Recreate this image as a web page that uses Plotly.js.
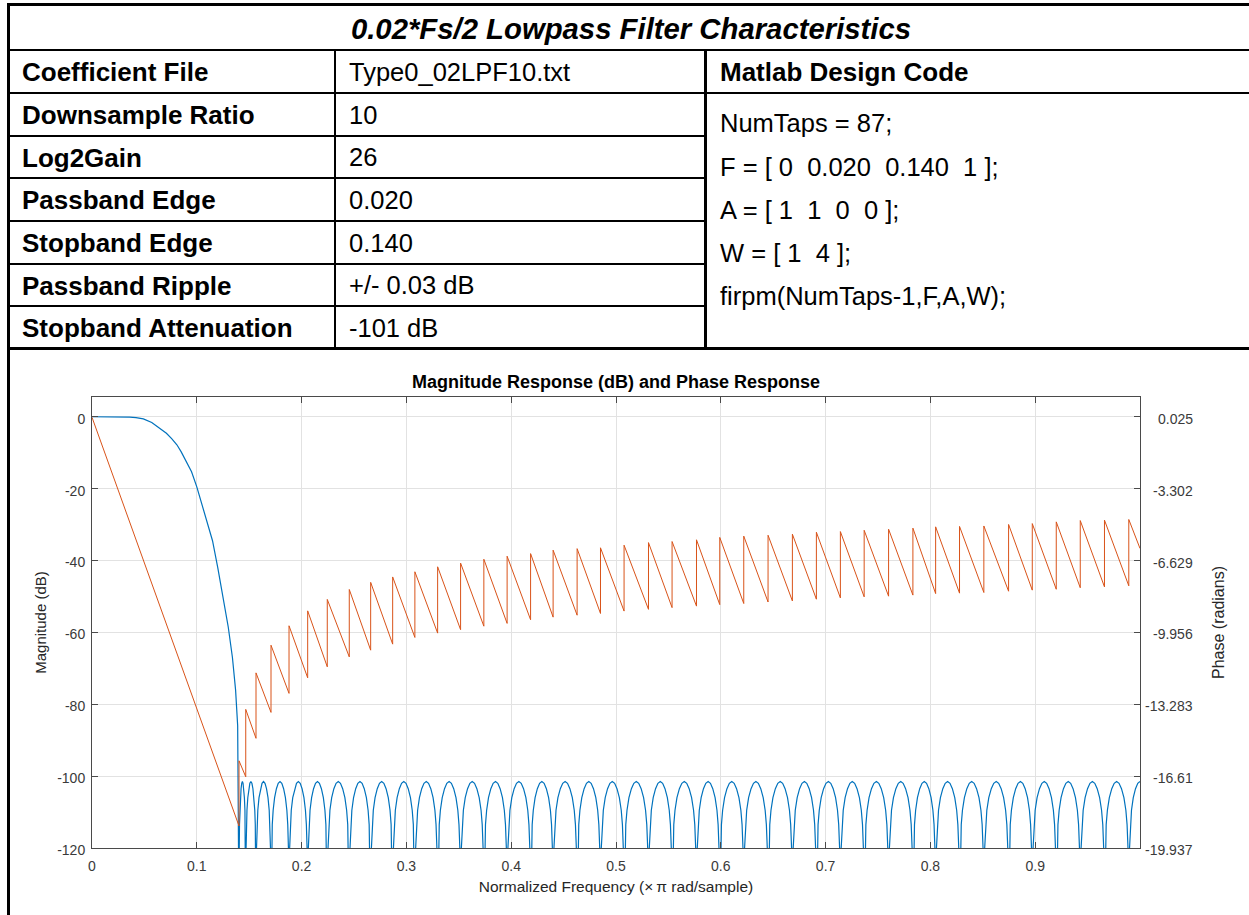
<!DOCTYPE html>
<html><head><meta charset="utf-8">
<script src="https://cdn.plot.ly/plotly-3.0.1.min.js"></script>
<style>
body{margin:0;width:1249px;height:915px;overflow:hidden;background:#fff;font-family:Arial,"Liberation Sans",sans-serif;}
.ln{position:absolute;background:#000;}
.tx{position:absolute;white-space:pre;color:#000;line-height:1;}
#plot{position:absolute;left:0;top:351px;width:1249px;height:564px;}
</style></head><body>
<div id="plot"></div>
<div id="table"></div>
<script>
// ---------- table content ----------
const tableTitle = "0.02*Fs/2 Lowpass Filter Characteristics";
const tableLabels = ["Coefficient File","Downsample Ratio","Log2Gain","Passband Edge","Stopband Edge","Passband Ripple","Stopband Attenuation"];
const tableValues = ["Type0_02LPF10.txt","10","26","0.020","0.140","+/- 0.03 dB","-101 dB"];
const codeHeader = "Matlab Design Code";
const codeLines = ["NumTaps = 87;","F = [ 0  0.020  0.140  1 ];","A = [ 1  1  0  0 ];","W = [ 1  4 ];","firpm(NumTaps-1,F,A,W);"];

// ---------- chart text ----------
const chartTitle = "Magnitude Response (dB) and Phase Response";
const xTitle = "Normalized Frequency (\u00d7\u2009\u03c0 rad/sample)";
const yTitle = "Magnitude (dB)";
const y2Title = "Phase (radians)";
const xTickVals = [0,0.1,0.2,0.3,0.4,0.5,0.6,0.7,0.8,0.9];
const xTickText = ["0","0.1","0.2","0.3","0.4","0.5","0.6","0.7","0.8","0.9"];
const yTickVals = [0,-20,-40,-60,-80,-100,-120];
const yTickText = ["0","-20","-40","-60","-80","-100","-120"];
const y2TickVals = [0.025,-3.302,-6.629,-9.956,-13.283,-16.61,-19.937];
const y2TickText = ["0.025","-3.302","-6.629","-9.956","-13.283","-16.61","-19.937"];

// ---------- magnitude (dB) ----------
const passF  = [0,0.010,0.020,0.030,0.036,0.042,0.049,0.057,0.065,0.071,0.076,0.081,0.085,0.090,0.095,0.100,0.105,0.110,0.115,0.120,0.125,0.130,0.134,0.137,0.139];
const passDb = [0,0,0,-0.02,-0.1,-0.25,-0.6,-1.6,-3.3,-4.6,-6.1,-7.8,-9.7,-12.3,-15.3,-19.5,-24.3,-29.3,-34.5,-42,-50,-58.5,-67,-76,-86];
// stopband nulls (frequency of each zero of the response)
const magNullF = [0.1403,0.1467,0.1565,0.1708,0.1880,0.2058,0.2245,0.2455,0.2659,0.2869,0.3081,0.3298,0.3517,0.3739,0.3961,0.4185,0.4400,0.4629,0.4852,0.5077,0.5310,0.5535,0.5768,0.5990,0.6219,0.6451,0.6683,0.6912,0.7141,0.7368,0.7601,0.7833,0.8050,0.8278,0.8510,0.8746,0.8972,0.9201,0.9430,0.9661,0.9893];
// peak level of the lobe that starts at each null
const magLobePeakDb = [-101.5,-101.5,-101.5,-101.5,-101.5,-101.5,-101.5,-101.5,-101.5,-101.5,-101.5,-101.5,-101.5,-101.5,-101.5,-101.5,-101.5,-101.5,-101.5,-101.5,-101.5,-101.5,-101.5,-101.5,-101.5,-101.5,-101.5,-101.5,-101.5,-101.5,-101.5,-101.5,-101.5,-101.5,-101.5,-101.5,-101.5,-101.5,-101.5,-101.5,-101.5];
const magEndF = 1.0;
// shape of one stopband lobe (fraction of lobe width, dB below the peak)
const lobeT        = [0,0.03,0.07,0.12,0.2,0.3,0.4,0.5,0.6,0.7,0.8,0.88,0.93,0.97,1];
const lobeOffsetDb = [-40,-19,-12,-8,-4.5,-2,-0.5,0,-0.5,-2,-4.5,-8,-12,-19,-40];

// ---------- phase (radians) ----------
const phaseStartF = 0, phaseStartRad = 0;
const phaseBeforeJump = [-18.92,-16.64,-14.86,-13.66,-12.78,-12.06,-11.55,-11.09,-10.78,-10.50,-10.19,-9.99,-9.83,-9.67,-9.54,-9.37,-9.25,-9.16,-9.08,-8.97,-8.89,-8.81,-8.74,-8.67,-8.62,-8.55,-8.50,-8.42,-8.36,-8.31,-8.28,-8.23,-8.16,-8.14,-8.11,-8.05,-8.00,-7.96,-7.89,-7.85,-7.80];
const phaseAfterJump  = [-15.90,-13.52,-11.83,-10.55,-9.65,-8.96,-8.43,-7.97,-7.64,-7.39,-7.15,-6.92,-6.75,-6.57,-6.43,-6.31,-6.15,-6.08,-6.04,-5.92,-5.80,-5.75,-5.67,-5.56,-5.50,-5.46,-5.41,-5.32,-5.29,-5.23,-5.18,-5.13,-5.07,-5.05,-5.03,-4.96,-4.92,-4.84,-4.78,-4.76,-4.73];
const phaseEndF = 1.0, phaseEndRad = -6.07;

// ---------- build the table ----------
const tbl = document.getElementById('table');
function line(x,y,w,h){const d=document.createElement('div');d.className='ln';d.style.left=x+'px';d.style.top=y+'px';d.style.width=w+'px';d.style.height=h+'px';tbl.appendChild(d);}
function text(t,x,yc,size,bold,italic,align,w){
  const d=document.createElement('div');d.className='tx';d.textContent=t;
  d.style.fontSize=size+'px';d.style.fontWeight=bold?'bold':'normal';d.style.fontStyle=italic?'italic':'normal';
  d.style.top=(yc-0.4885*size)+'px';d.style.left=x+'px';
  if(align){d.style.textAlign=align;d.style.width=w+'px';}
  tbl.appendChild(d);
}
const rowLines=[50,93,136,178,221,264,306,349];
line(7,3,1242,3); line(7,3,3,912);
line(10,49,1239,2);
for(let i=1;i<rowLines.length-1;i++) line(10,rowLines[i]-1,694,2);
line(707,92,542,2);
line(7,347,1242,3);
line(334,50,2,298); line(704,50,3,298);
const FS_B=26, FS_R=25.5;
text(tableTitle,10,28,29.3,true,true,'center',1242);
for(let i=0;i<tableLabels.length;i++){
  const yc=(rowLines[i]+rowLines[i+1])/2+0.5;
  text(tableLabels[i],22,yc,FS_B,true,false);
  text(tableValues[i],349,yc,FS_R,false,false);
}
text(codeHeader,720,(rowLines[0]+rowLines[1])/2+0.5,FS_B,true,false);
const codeCenters=[123,167,210,253,296];
for(let i=0;i<codeLines.length;i++) text(codeLines[i],720,codeCenters[i],FS_R,false,false);

// ---------- build the traces ----------
const magF=[], magY=[];
for(let i=0;i<passF.length;i++){magF.push(passF[i]);magY.push(passDb[i]);}
for(let i=0;i<magNullF.length;i++){
  const a=magNullF[i];
  const last=(i===magNullF.length-1);
  const b=last?2*magEndF-a:magNullF[i+1];
  for(let k=0;k<lobeT.length;k++){
    if(last && lobeT[k]>0.5) break;
    magF.push(a+lobeT[k]*(b-a)); magY.push(magLobePeakDb[i]+lobeOffsetDb[k]);
  }
}
const phF=[phaseStartF], phY=[phaseStartRad];
for(let i=0;i<magNullF.length;i++){phF.push(magNullF[i],magNullF[i]);phY.push(phaseBeforeJump[i],phaseAfterJump[i]);}
phF.push(phaseEndF); phY.push(phaseEndRad);

const axisCol='#4a4a4a', tickFont={family:'Arial, Liberation Sans, sans-serif',size:14,color:'#3a3a3a'};
const traces=[
  {x:magF,y:magY,type:'scatter',mode:'lines',line:{color:'#0072BD',width:1.2},yaxis:'y',name:'Magnitude',hoverinfo:'skip'},
  {x:phF,y:phY,type:'scatter',mode:'lines',line:{color:'#D95319',width:1},yaxis:'y2',name:'Phase',hoverinfo:'skip'}
];
// right-axis tick labels are right-aligned (as in the reference)
const rightLabels = y2TickVals.map((v,i)=>({x:1+(1195-1140)/1048,xref:'paper',xanchor:'right',y:v,yref:'y2',yanchor:'middle',yshift:-2,
  text:y2TickText[i],showarrow:false,font:tickFont}));
const layout={
  width:1249,height:564,margin:{l:92,r:109,t:46,b:67},
  paper_bgcolor:'#ffffff',plot_bgcolor:'#ffffff',showlegend:false,
  font:{family:'Arial, Liberation Sans, sans-serif'},
  title:{text:'<b>'+chartTitle+'</b>',font:{size:18,color:'#000'},x:0.5,xref:'paper',xanchor:'center',y:1-31/564,yref:'container',yanchor:'middle'},
  xaxis:{range:[0,1],tickvals:xTickVals,ticktext:xTickText,showgrid:true,gridcolor:'#e2e2e2',gridwidth:1,zeroline:false,
    showline:true,linecolor:axisCol,linewidth:1,ticks:'inside',ticklen:6,tickcolor:axisCol,mirror:'ticks',tickfont:tickFont,ticklabelstandoff:5,
    title:{text:xTitle,font:{size:15.5,color:'#262626'},standoff:8}},
  yaxis:{range:[-120,5.5],tickvals:yTickVals,ticktext:yTickText,showgrid:true,gridcolor:'#e2e2e2',gridwidth:1,zeroline:false,
    showline:true,linecolor:axisCol,linewidth:1,ticks:'inside',ticklen:6,tickcolor:axisCol,tickfont:tickFont,ticklabelstandoff:3,ticklabelshift:2,
    title:{text:yTitle,font:{size:15,color:'#262626'},standoff:6}},
  yaxis2:{range:[-19.937,0.940],overlaying:'y',side:'right',tickvals:y2TickVals,showticklabels:false,showgrid:false,zeroline:false,
    showline:true,linecolor:axisCol,linewidth:1,ticks:'inside',ticklen:6,tickcolor:axisCol,
    title:{text:y2Title,font:{size:16,color:'#262626'},standoff:72}},
  annotations:rightLabels
};
Plotly.newPlot('plot',traces,layout,{displayModeBar:false,staticPlot:true});
</script>
</body></html>
